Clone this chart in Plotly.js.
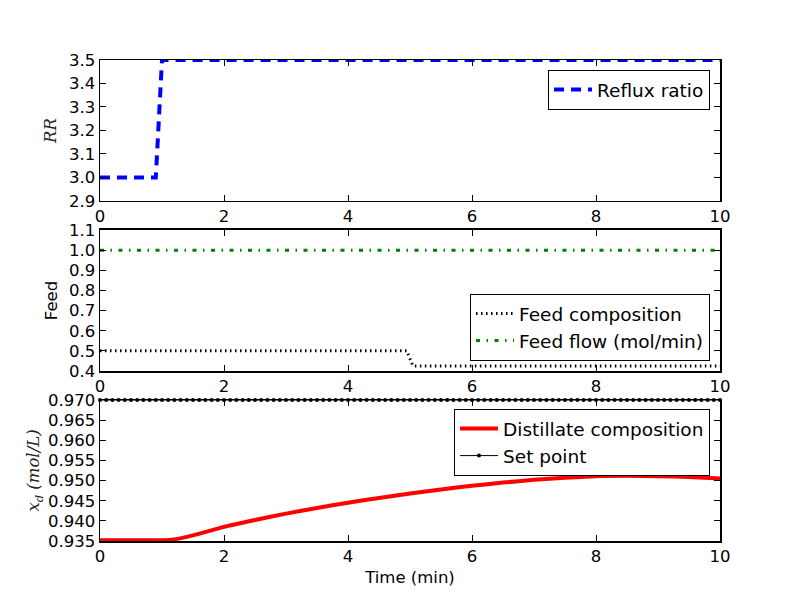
<!DOCTYPE html>
<html>
<head>
<meta charset="utf-8">
<script src="https://cdn.plot.ly/plotly-3.0.1.min.js"></script>
<style>html,body{margin:0;padding:0;background:#fff;}#chart{width:800px;height:600px;}</style>
</head>
<body>
<div id="chart"></div>
<script>
// ---- Data ----
// Reflux ratio (top panel)
const refluxTime = [0, 0.9, 1.0, 10];
const refluxRatio = [3.0, 3.0, 3.5, 3.5];

// Feed (middle panel)
const feedCompTime = [0, 4.95, 5.0, 5.05, 10];
const feedComp = [0.5, 0.5, 0.46, 0.425, 0.425];
const feedFlowTime = [0, 10];
const feedFlow = [1.0, 1.0];

// Distillate composition (bottom panel)
const distTime = [0, 1.0, 1.2, 1.5, 2.0, 2.5, 3.0, 3.5, 4.0, 4.5, 5.0, 5.5, 6.0, 6.5, 7.0, 7.5, 8.0, 8.5, 9.0, 9.5, 10.0];
const distComp = [0.9352, 0.9352, 0.9354, 0.9364, 0.9385, 0.9402, 0.9418, 0.9432, 0.9445, 0.9457, 0.9468, 0.9478, 0.9487, 0.9495, 0.9502, 0.9507, 0.9511, 0.9512, 0.9511, 0.9509, 0.9505];

// Set point sampled every 0.1 min
const setTime = [0,0.1,0.2,0.3,0.4,0.5,0.6,0.7,0.8,0.9,1.0,1.1,1.2,1.3,1.4,1.5,1.6,1.7,1.8,1.9,
  2.0,2.1,2.2,2.3,2.4,2.5,2.6,2.7,2.8,2.9,3.0,3.1,3.2,3.3,3.4,3.5,3.6,3.7,3.8,3.9,
  4.0,4.1,4.2,4.3,4.4,4.5,4.6,4.7,4.8,4.9,5.0,5.1,5.2,5.3,5.4,5.5,5.6,5.7,5.8,5.9,
  6.0,6.1,6.2,6.3,6.4,6.5,6.6,6.7,6.8,6.9,7.0,7.1,7.2,7.3,7.4,7.5,7.6,7.7,7.8,7.9,
  8.0,8.1,8.2,8.3,8.4,8.5,8.6,8.7,8.8,8.9,9.0,9.1,9.2,9.3,9.4,9.5,9.6,9.7,9.8,9.9,10.0];
const setPoint = [0.97,0.97,0.97,0.97,0.97,0.97,0.97,0.97,0.97,0.97,0.97,0.97,0.97,0.97,0.97,0.97,0.97,0.97,0.97,0.97,
  0.97,0.97,0.97,0.97,0.97,0.97,0.97,0.97,0.97,0.97,0.97,0.97,0.97,0.97,0.97,0.97,0.97,0.97,0.97,0.97,
  0.97,0.97,0.97,0.97,0.97,0.97,0.97,0.97,0.97,0.97,0.97,0.97,0.97,0.97,0.97,0.97,0.97,0.97,0.97,0.97,
  0.97,0.97,0.97,0.97,0.97,0.97,0.97,0.97,0.97,0.97,0.97,0.97,0.97,0.97,0.97,0.97,0.97,0.97,0.97,0.97,
  0.97,0.97,0.97,0.97,0.97,0.97,0.97,0.97,0.97,0.97,0.97,0.97,0.97,0.97,0.97,0.97,0.97,0.97,0.97,0.97,0.97];

// Tick values / labels
const xTicks = [0, 2, 4, 6, 8, 10];
const rrTicks = [2.9, 3.0, 3.1, 3.2, 3.3, 3.4, 3.5];
const feedTicks = [0.4, 0.5, 0.6, 0.7, 0.8, 0.9, 1.0, 1.1];
const xdTicks = [0.935, 0.940, 0.945, 0.950, 0.955, 0.960, 0.965, 0.970];

// ---- Styling ----
const FONT = 'DejaVu Sans, sans-serif';
const FS = 16.5;
const LFS = 18.5;

function xAxis(anchor) {
  return {
    anchor: anchor, range: [0, 10], tickvals: xTicks, ticktext: xTicks.map(String),
    ticks: 'inside', ticklen: 6, tickwidth: 1, tickcolor: '#000',
    showline: true, linecolor: '#000', linewidth: 1.5, mirror: 'ticks',
    showgrid: false, zeroline: false,
    tickfont: {family: FONT, size: FS, color: '#000'}
  };
}
function yAxis(anchor, domain, range, ticks, dec, title) {
  return {
    anchor: anchor, domain: domain, range: range, tickvals: ticks,
    ticktext: ticks.map(v => v.toFixed(dec)),
    ticks: 'inside', ticklen: 6, tickwidth: 1, tickcolor: '#000',
    showline: true, linecolor: '#000', linewidth: 1.5, mirror: 'ticks',
    showgrid: false, zeroline: false,
    tickfont: {family: FONT, size: FS, color: '#000'},
    title: title
  };
}

const traces = [
  {x: refluxTime, y: refluxRatio, xaxis: 'x', yaxis: 'y', mode: 'lines', name: 'Reflux ratio',
   line: {color: '#0000ff', width: 4, dash: '10px,7px'}, legend: 'legend'},
  {x: feedCompTime, y: feedComp, xaxis: 'x2', yaxis: 'y2', mode: 'lines', name: 'Feed composition',
   line: {color: '#000000', width: 3, dash: '1.5px,3.5px'}, legend: 'legend2'},
  {x: feedFlowTime, y: feedFlow, xaxis: 'x2', yaxis: 'y2', mode: 'lines', name: 'Feed flow (mol/min)',
   line: {color: '#008000', width: 3, dash: '4px,6.5px,1.5px,6.5px'}, legend: 'legend2'},
  {x: distTime, y: distComp, xaxis: 'x3', yaxis: 'y3', mode: 'lines', name: 'Distillate composition',
   line: {color: '#ff0000', width: 4, shape: 'spline', smoothing: 0.5}, legend: 'legend3'},
  {x: setTime, y: setPoint, xaxis: 'x3', yaxis: 'y3', mode: 'lines+markers', name: 'Set point',
   line: {color: '#000000', width: 1}, marker: {color: '#000000', size: 4}, cliponaxis: false, legend: 'legend3'}
];

const legendBase = {
  bgcolor: '#ffffff', bordercolor: '#000000', borderwidth: 1,
  font: {family: FONT, size: LFS, color: '#000'},
  itemwidth: 38,
  xanchor: 'right', xref: 'paper', yref: 'paper'
};

const layout = {
  width: 800, height: 600,
  paper_bgcolor: '#ffffff', plot_bgcolor: '#ffffff',
  margin: {l: 100, r: 80, t: 60, b: 59},
  font: {family: FONT, size: FS, color: '#000'},
  xaxis: xAxis('y'),
  xaxis2: xAxis('y2'),
  xaxis3: Object.assign(xAxis('y3'), {title: {text: 'Time (min)', font: {family: FONT, size: FS, color: '#000'}, standoff: 6}}),
  yaxis: yAxis('x', [0.7069, 1], [2.9, 3.5], rrTicks, 1,
    {text: '<i>RR</i>', font: {family: 'DejaVu Serif, serif', size: FS, color: '#222'}}),
  yaxis2: yAxis('x2', [0.3534, 0.6466], [0.4, 1.1], feedTicks, 1,
    {text: 'Feed', font: {family: FONT, size: FS, color: '#000'}}),
  yaxis3: yAxis('x3', [0, 0.2931], [0.935, 0.970], xdTicks, 3,
    {text: '<i>x</i><sub><i>d</i></sub> <i>(mol/L)</i>', font: {family: 'DejaVu Serif, serif', size: FS, color: '#222'}}),
  legend: Object.assign({}, legendBase, {x: 0.9839, y: 0.9792, yanchor: 'top'}),
  legend2: Object.assign({}, legendBase, {x: 0.9839, y: 0.3742, yanchor: 'bottom'}),
  legend3: Object.assign({}, legendBase, {x: 0.9839, y: 0.2744, yanchor: 'top'}),
  showlegend: true
};

Plotly.newPlot('chart', traces, layout, {staticPlot: true, displayModeBar: false});
</script>
</body>
</html>
